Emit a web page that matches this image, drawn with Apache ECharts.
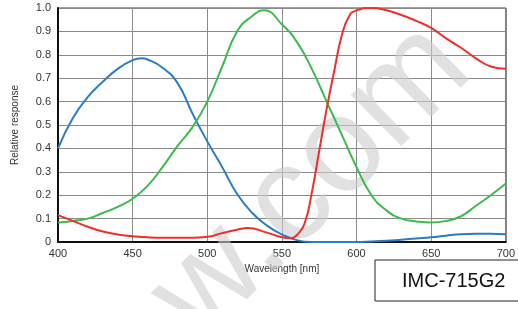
<!DOCTYPE html>
<html>
<head>
<meta charset="utf-8">
<script src="https://cdn.jsdelivr.net/npm/echarts@6/dist/echarts.min.js"></script>
<style>
    html, body { margin: 0; padding: 0; background: #fff; }
    #chart { width: 518px; height: 309px; }
</style>
</head>
<body>
<div id="chart"></div>
<script>
// 蓝色通道
var blueNm = [400, 410, 420, 430, 440, 450, 456, 460, 470, 480, 490, 500, 510, 520, 530, 540, 550, 560, 570, 580, 590, 600, 610, 620, 630, 640, 650, 660, 670, 680, 690, 700];
var blueVal = [0.40, 0.53, 0.62, 0.685, 0.74, 0.777, 0.785, 0.78, 0.745, 0.68, 0.55, 0.43, 0.32, 0.205, 0.125, 0.07, 0.033, 0.008, 0.0, 0.0, 0.0, 0.0, 0.002, 0.005, 0.01, 0.015, 0.02, 0.027, 0.033, 0.035, 0.035, 0.033];
// 绿色通道
var greenNm = [400, 410, 420, 430, 440, 450, 460, 470, 480, 490, 500, 510, 520, 530, 538, 550, 560, 570, 580, 590, 600, 610, 620, 630, 640, 650, 660, 670, 680, 690, 700];
var greenVal = [0.083, 0.09, 0.10, 0.124, 0.15, 0.185, 0.24, 0.32, 0.41, 0.49, 0.60, 0.75, 0.90, 0.965, 0.99, 0.93, 0.855, 0.74, 0.60, 0.46, 0.32, 0.20, 0.135, 0.10, 0.088, 0.083, 0.09, 0.11, 0.155, 0.20, 0.25];
// 红色通道
var redNm = [400, 410, 420, 430, 440, 450, 460, 470, 480, 490, 500, 510, 520, 527, 540, 550, 556, 560, 565, 570, 575, 580, 585, 590, 595, 600, 610, 620, 630, 640, 650, 660, 670, 680, 690, 700];
var redVal = [0.115, 0.09, 0.065, 0.045, 0.032, 0.025, 0.02, 0.018, 0.018, 0.018, 0.022, 0.038, 0.052, 0.06, 0.04, 0.02, 0.016, 0.03, 0.075, 0.21, 0.39, 0.57, 0.73, 0.88, 0.965, 0.99, 1.0, 0.99, 0.97, 0.945, 0.915, 0.87, 0.83, 0.785, 0.75, 0.74];

var xTicks = [400, 450, 500, 550, 600, 650, 700];
var yTicks = [0, 0.1, 0.2, 0.3, 0.4, 0.5, 0.6, 0.7, 0.8, 0.9, 1.0];

function pairs(xs, ys) {
    var out = [];
    for (var i = 0; i < xs.length; i++) {
        out.push([xs[i], ys[i]]);
    }
    return out;
}

var chartDom = document.getElementById('chart');
var myChart = echarts.init(chartDom);
var labelFont = 'Liberation Sans, Arial, sans-serif';
var option = {
    animation: false,
    grid: {
        left: 58,
        right: 11,
        top: 8,
        bottom: 67,
        show: true,
        borderColor: '#444',
        borderWidth: 1
    },
    xAxis: {
        type: 'value',
        min: xTicks[0],
        max: xTicks[xTicks.length - 1],
        interval: 50,
        name: 'Wavelength [nm]',
        nameLocation: 'middle',
        nameGap: 21,
        nameTextStyle: { color: '#333', fontSize: 10, fontFamily: labelFont },
        axisLine: { show: true, lineStyle: { color: '#111', width: 2 } },
        axisTick: { show: false },
        axisLabel: { color: '#333', fontSize: 11, fontFamily: labelFont, margin: 6 },
        splitLine: { show: true, lineStyle: { color: '#8a8a8a', width: 1 } }
    },
    yAxis: {
        type: 'value',
        min: yTicks[0],
        max: yTicks[yTicks.length - 1],
        interval: 0.1,
        name: 'Relative response',
        nameLocation: 'middle',
        nameGap: 38,
        nameTextStyle: { color: '#333', fontSize: 10, fontFamily: labelFont },
        axisLine: { show: true, lineStyle: { color: '#111', width: 2 } },
        axisTick: { show: false },
        axisLabel: {
            color: '#333',
            fontSize: 11,
            fontFamily: labelFont,
            margin: 7,
            formatter: function (value) {
                return value === 0 ? '0' : value.toFixed(1);
            }
        },
        splitLine: { show: true, lineStyle: { color: '#8a8a8a', width: 1 } }
    },
    graphic: [
        {
            // 水印
            type: 'text',
            z: 1,
            x: 312,
            y: 182,
            rotation: 0.78,
            style: {
                text: 'w.com',
                fontSize: 136,
                fontFamily: labelFont,
                fill: 'rgba(205,205,205,0.6)',
                align: 'center',
                verticalAlign: 'middle'
            }
        },
        {
            type: 'rect',
            z: 10,
            shape: { x: 375, y: 260, width: 160, height: 41 },
            style: { fill: '#fff', stroke: '#222', lineWidth: 1 }
        },
        {
            type: 'text',
            z: 11,
            x: 402,
            y: 281,
            style: {
                text: 'IMC-715G2',
                fontSize: 20,
                fontFamily: labelFont,
                fill: '#111',
                verticalAlign: 'middle'
            }
        }
    ],
    series: [
        {
            name: 'Blue',
            type: 'line',
            smooth: true,
            showSymbol: false,
            lineStyle: { color: '#2a7cc4', width: 2 },
            data: pairs(blueNm, blueVal)
        },
        {
            name: 'Green',
            type: 'line',
            smooth: true,
            showSymbol: false,
            lineStyle: { color: '#3dba4e', width: 2 },
            data: pairs(greenNm, greenVal)
        },
        {
            name: 'Red',
            type: 'line',
            smooth: true,
            showSymbol: false,
            lineStyle: { color: '#ef2e2a', width: 2 },
            data: pairs(redNm, redVal)
        }
    ]
};
myChart.setOption(option);
</script>
</body>
</html>
